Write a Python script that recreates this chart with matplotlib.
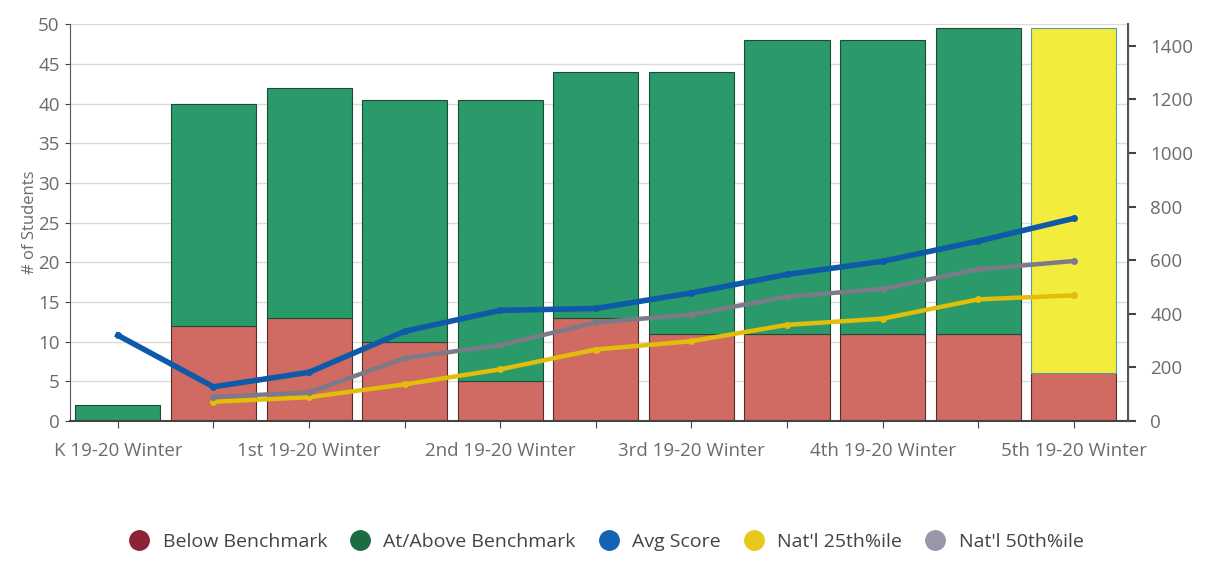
import numpy as np
import matplotlib
matplotlib.use('Agg')
import matplotlib.pyplot as plt
from matplotlib.lines import Line2D

plt.rcParams['font.family'] = ['Open Sans', 'DejaVu Sans']

# categories (only every other one gets a label on the axis)
categories = ['K 19-20 Winter', '', '1st 19-20 Winter', '', '2nd 19-20 Winter', '',
              '3rd 19-20 Winter', '', '4th 19-20 Winter', '', '5th 19-20 Winter']
below = [0, 12, 13, 10, 5, 13, 11, 11, 11, 11, 6]
above = [2, 28, 29, 30.5, 35.5, 31, 33, 37, 37, 38.5, 43.5]
avg_score = [320, 128, 182, 335, 413, 420, 478, 547, 596, 671, 756]
natl_25 = [np.nan, 72, 89, 137, 193, 267, 298, 359, 382, 454, 469]
natl_50 = [np.nan, 90, 107, 235, 283, 368, 397, 464, 493, 566, 597]

red = '#cf6b63'
green = '#2a9a6a'
highlight = '#f4ec3c'
blue = '#0f5aa8'
yellow = '#e2bd0a'
gray = '#7c7a88'
text_gray = '#6b6b6b'

fig = plt.figure(figsize=(12.08, 5.63), dpi=100)
ax = fig.add_axes([0.058, 0.252, 0.876, 0.705])
ax2 = ax.twinx()

x = np.arange(len(categories))
above_colors = [green] * (len(x) - 1) + [highlight]
above_edges = ['#1f4a36'] * (len(x) - 1) + ['#5f9aa0']
ax.bar(x, below, width=0.89, color=red, edgecolor='#5a2a28', linewidth=0.8, zorder=2)
ax.bar(x, above, width=0.89, bottom=below, color=above_colors,
       edgecolor=above_edges, linewidth=0.8, zorder=2)

ax2.plot(x, natl_25, color=yellow, lw=3.2, marker='o', ms=4, zorder=3)
ax2.plot(x, natl_50, color=gray, lw=3.2, marker='o', ms=4, zorder=3)
ax2.plot(x, avg_score, color=blue, lw=4, marker='o', ms=4, zorder=4)

ax.set_xlim(-0.5, 10.57)
ax.set_ylim(0, 50)
ax.set_yticks(range(0, 51, 5))
ax2.set_ylim(0, 1480)
ax2.set_yticks(range(0, 1401, 200))

ax.set_xticks(x)
ax.set_xticklabels(categories, fontsize=13.5, color=text_gray)
ax.set_ylabel('# of Students', fontsize=12, color=text_gray, labelpad=0)
ax.yaxis.grid(True, color='#dcdcdc', lw=1)
ax.set_axisbelow(True)

for a in (ax, ax2):
    a.spines['top'].set_visible(False)
    a.tick_params(axis='y', labelsize=13.5, labelcolor=text_gray, color='#444444')
ax.spines['left'].set_color('#555555')
ax.spines['bottom'].set_color('#444444')
ax.spines['bottom'].set_linewidth(1.5)
ax2.spines['right'].set_color('#555555')
ax2.spines['right'].set_linewidth(1.5)
ax2.spines['left'].set_visible(False)
ax2.spines['bottom'].set_visible(False)
ax.tick_params(axis='x', color='#444444', length=5, pad=10)
ax.tick_params(axis='y', pad=4)
ax2.tick_params(axis='y', length=6, width=1.5, pad=10)

handles = [
    Line2D([], [], ls='none', marker='o', ms=14, color='#8c2435', label='Below Benchmark'),
    Line2D([], [], ls='none', marker='o', ms=14, color='#1b6c42', label='At/Above Benchmark'),
    Line2D([], [], ls='none', marker='o', ms=14, color='#1463b3', label='Avg Score'),
    Line2D([], [], ls='none', marker='o', ms=14, color='#e7c81c', label="Nat'l 25th%ile"),
    Line2D([], [], ls='none', marker='o', ms=14, color='#9896a8', label="Nat'l 50th%ile"),
]
fig.legend(handles=handles, loc='center', bbox_to_anchor=(0.498, 0.038), ncol=5,
           frameon=False, fontsize=14, handletextpad=0.2, columnspacing=0.7,
           labelcolor='#444444')

fig.savefig('out.png', dpi=100)
